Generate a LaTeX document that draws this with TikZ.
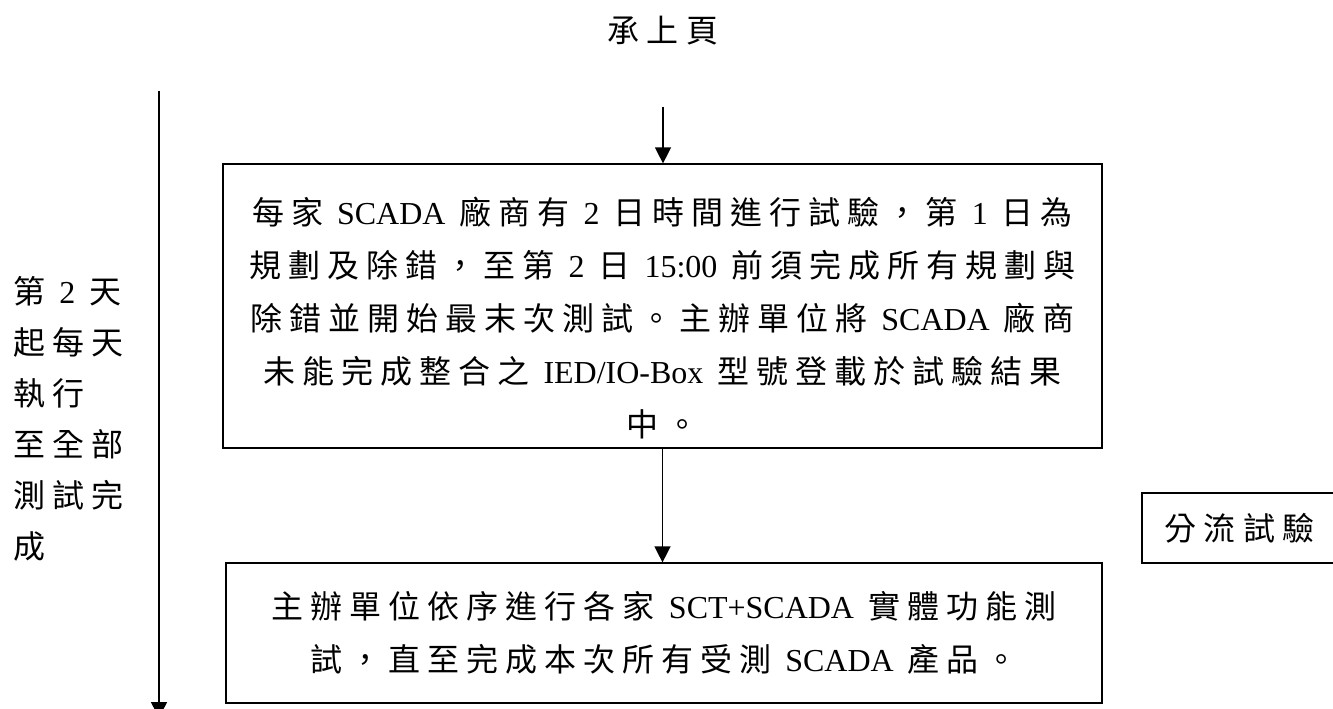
\documentclass[tikz,border=0pt]{standalone}
\usepackage{fontspec}
\setmainfont{Liberation Serif}
\newfontfamily\cjkfont[LetterSpace=22]{Noto Sans CJK TC}
\newcommand{\zh}[1]{{\cjkfont #1}}
\newcommand{\widespace}{\spaceskip=8pt\relax}
\usetikzlibrary{arrows.meta}
\tikzset{
  flowbox/.style={draw, line width=0.7pt, align=center, inner sep=0pt},
  flowarrow/.style={line width=0.8pt, -{Triangle[width=0.32cm,length=0.32cm]}},
  bodytext/.style={font=\fontsize{18.2}{30.1}\selectfont\widespace}
}

\begin{document}
\begin{tikzpicture}
\useasboundingbox (0,0) rectangle (26.66,-14.16);

\node[bodytext] (title) at (13.26,-0.62) {\zh{承上頁}};
\coordinate (topin) at (13.26,-2.14);

\node[flowbox,bodytext,minimum width=17.58cm,minimum height=5.68cm] (plan) at (13.25,-6.12)
 {\rule{0pt}{1.04cm}\zh{每家} SCADA \zh{廠商有} 2 \zh{日時間進行試驗，第} 1 \zh{日為}\\
  \zh{規劃及除錯，至第} 2 \zh{日} 15:00 \zh{前須完成所有規劃與}\\
  \zh{除錯並開始最末次測試。主辦單位將} SCADA \zh{廠商}\\
  \zh{未能完成整合之} IED/IO-Box \zh{型號登載於試驗結果}\\
  \zh{中。}};

\node[flowbox,bodytext,minimum width=17.52cm,minimum height=2.8cm] (test) at (13.28,-12.66)
 {\zh{主辦單位依序進行各家} SCT+SCADA \zh{實體功能測}\\
  \zh{試，直至完成本次所有受測} SCADA \zh{產品。}};

\node[flowbox,bodytext,minimum width=3.9cm,minimum height=1.4cm] (branch) at (24.79,-10.56) {\zh{分流試驗}};

% left side
\coordinate (daystart) at (3.18,-1.82);
\coordinate (dayend) at (3.18,-14.36);
\node[bodytext,align=left,anchor=west,inner sep=0pt,font=\fontsize{18.2}{29}\selectfont\widespace] (daynote) at (0.26,-8.38)
 {\zh{第} 2 \zh{天}\\ \zh{起每天}\\ \zh{執行}\\ \zh{至全部}\\ \zh{測試完}\\ \zh{成}};

\draw[flowarrow] (topin) -- (topin |- plan.north);
\draw[flowarrow] (plan.south) -- (plan.south |- test.north);
\draw[flowarrow] (daystart) -- (dayend);

\end{tikzpicture}
\end{document}
